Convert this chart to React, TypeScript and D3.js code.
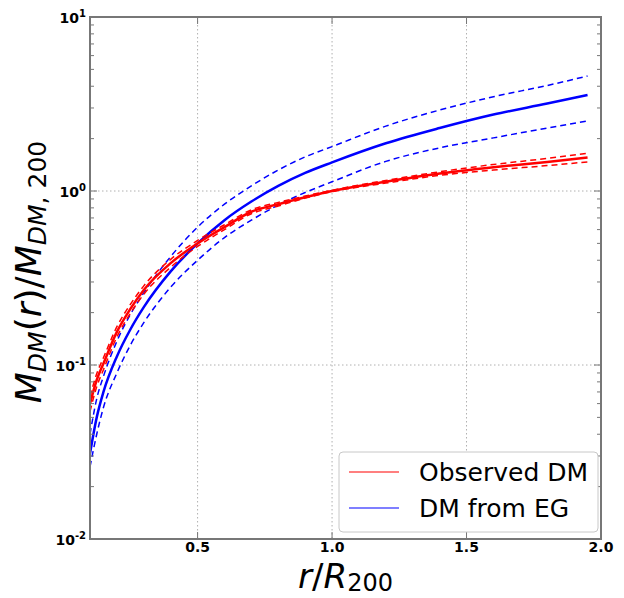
import React from "react";
import { scaleLinear, scaleLog, line, curveMonotoneX } from "d3";

// radius in units of R200
const radius = [0.1, 0.125, 0.15, 0.2, 0.25, 0.3, 0.4, 0.5, 0.6, 0.7, 0.8, 0.9, 1.0, 1.2, 1.4, 1.6, 1.8, 1.95];

// observed dark matter (red) with its band
const observed = [0.060, 0.082, 0.102, 0.155, 0.21, 0.27, 0.385, 0.50, 0.62, 0.76, 0.84, 0.92, 1.0, 1.13, 1.26, 1.37, 1.47, 1.56];
const observedHigh = [0.066, 0.089, 0.110, 0.166, 0.223, 0.285, 0.405, 0.52, 0.64, 0.78, 0.86, 0.935, 1.01, 1.15, 1.29, 1.42, 1.54, 1.65];
const observedLow = [0.054, 0.075, 0.094, 0.145, 0.198, 0.255, 0.365, 0.48, 0.60, 0.74, 0.82, 0.91, 0.99, 1.11, 1.23, 1.32, 1.40, 1.47];

// emergent gravity prediction (blue) with its band
const emergent = [0.031, 0.050, 0.070, 0.112, 0.16, 0.215, 0.345, 0.50, 0.68, 0.87, 1.07, 1.27, 1.46, 1.88, 2.30, 2.75, 3.18, 3.56];
const emergentHigh = [0.040, 0.064, 0.086, 0.137, 0.195, 0.26, 0.42, 0.62, 0.84, 1.07, 1.32, 1.57, 1.80, 2.36, 2.92, 3.48, 4.04, 4.58];
const emergentLow = [0.026, 0.040, 0.057, 0.090, 0.13, 0.175, 0.28, 0.40, 0.54, 0.68, 0.83, 0.98, 1.13, 1.48, 1.77, 2.02, 2.30, 2.53];

const xTicks = [0.5, 1.0, 1.5, 2.0];
const xTickLabels = ["0.5", "1.0", "1.5", "2.0"];
const yTicks = [0.01, 0.1, 1, 10];
const yTickExponents = ["-2", "-1", "0", "1"];
const legendLabels = ["Observed DM", "DM from EG"];

const W = 624, H = 598;
const left = 90, right = 601, top = 17, bottom = 539;
const font = "'DejaVu Sans', sans-serif";

function App() {
    const x = scaleLinear().domain([0.1, 2.0]).range([left, right]);
    const y = scaleLog().domain([0.01, 10]).range([bottom, top]);

    const path = (vals: number[]) =>
        line<number>()
            .x((d, i) => x(radius[i]))
            .y(d => y(d))
            .curve(curveMonotoneX)(vals) || "";

    // minor log ticks 2..9 per decade
    const minor: number[] = [];
    [0.01, 0.1, 1].forEach(b => { for (let k = 2; k <= 9; k++) minor.push(b * k); });

    const series = [
        { vals: emergentHigh, color: "#0000ff", dash: "6,4", w: 1.5 },
        { vals: emergentLow, color: "#0000ff", dash: "6,4", w: 1.5 },
        { vals: emergent, color: "#0000ff", dash: null, w: 2.5 },
        { vals: observedHigh, color: "#ff0000", dash: "6,4", w: 1.5 },
        { vals: observedLow, color: "#ff0000", dash: "6,4", w: 1.5 },
        { vals: observed, color: "#ff0000", dash: null, w: 2.5 },
    ];

    return (
        <svg width={W} height={H} style={{ position: "absolute", left: 0, top: 0, background: "#fff" }}>
            <defs>
                <clipPath id="plot">
                    <rect x={left} y={top} width={right - left} height={bottom - top} />
                </clipPath>
            </defs>

            {/* grid */}
            {xTicks.map(t => (
                <line key={"gx" + t} x1={x(t)} x2={x(t)} y1={top} y2={bottom} stroke="#b0b0b0" strokeDasharray="1.5,2.5" />
            ))}
            {yTicks.map(t => (
                <line key={"gy" + t} x1={left} x2={right} y1={y(t)} y2={y(t)} stroke="#b0b0b0" strokeDasharray="1.5,2.5" />
            ))}

            {/* curves */}
            <g clipPath="url(#plot)">
                {series.map((s, i) => (
                    <path key={i} d={path(s.vals)} fill="none" stroke={s.color} strokeWidth={s.w}
                        strokeDasharray={s.dash || undefined} />
                ))}
            </g>

            {/* ticks, inward on all sides */}
            {xTicks.map(t => (
                <g key={"tx" + t} stroke="#777">
                    <line x1={x(t)} x2={x(t)} y1={bottom} y2={bottom - 7} />
                    <line x1={x(t)} x2={x(t)} y1={top} y2={top + 7} />
                </g>
            ))}
            {yTicks.map(t => (
                <g key={"ty" + t} stroke="#777">
                    <line x1={left} x2={left + 7} y1={y(t)} y2={y(t)} />
                    <line x1={right} x2={right - 7} y1={y(t)} y2={y(t)} />
                </g>
            ))}
            {minor.map(t => (
                <g key={"tm" + t} stroke="#777">
                    <line x1={left} x2={left + 4} y1={y(t)} y2={y(t)} />
                    <line x1={right} x2={right - 4} y1={y(t)} y2={y(t)} />
                </g>
            ))}

            {/* spines */}
            <rect x={left} y={top} width={right - left} height={bottom - top} fill="none" stroke="#777" strokeWidth={2} />

            {/* tick labels */}
            {xTicks.map((t, i) => (
                <text key={"lx" + t} x={x(t)} y={bottom + 13} textAnchor="middle" fontFamily={font}
                    fontWeight="bold" fontSize={14}>{xTickLabels[i]}</text>
            ))}
            {yTicks.map((t, i) => (
                <text key={"ly" + t} x={left - 4} y={y(t) + 5.5} textAnchor="end" fontFamily={font}
                    fontWeight="bold" fontSize={14}>
                    10<tspan fontSize={10} dy={-6}>{yTickExponents[i]}</tspan>
                </text>
            ))}

            {/* axis labels */}
            <text x={(left + right) / 2} y={588} textAnchor="middle" fontFamily={font} fontSize={34}>
                <tspan fontStyle="italic">r</tspan>/<tspan fontStyle="italic">R</tspan>
                <tspan fontSize={24} dy={3}>200</tspan>
            </text>
            <text transform={`translate(41,${(top + bottom) / 2 - 6}) rotate(-90)`} textAnchor="middle"
                fontFamily={font} fontSize={36}>
                <tspan fontStyle="italic">M</tspan>
                <tspan fontStyle="italic" fontSize={25} dy={5}>DM</tspan>
                <tspan dy={-5}>(</tspan><tspan fontStyle="italic">r</tspan>)/<tspan fontStyle="italic">M</tspan>
                <tspan fontStyle="italic" fontSize={25} dy={5}>DM</tspan>
                <tspan fontSize={25}>, 200</tspan>
            </text>

            {/* legend */}
            <rect x={339} y={452} width={259} height={80} rx={4} fill="#fff" stroke="#c8c8c8" strokeWidth={1} />
            {legendLabels.map((lab, i) => (
                <g key={lab}>
                    <line x1={349} x2={399} y1={472 + i * 36} y2={472 + i * 36}
                        stroke={i === 0 ? "#ff0000" : "#0000ff"} strokeWidth={1.2} />
                    <text x={419} y={481 + i * 36} fontFamily={font} fontSize={25}>{lab}</text>
                </g>
            ))}
        </svg>
    );
}

export default App;
